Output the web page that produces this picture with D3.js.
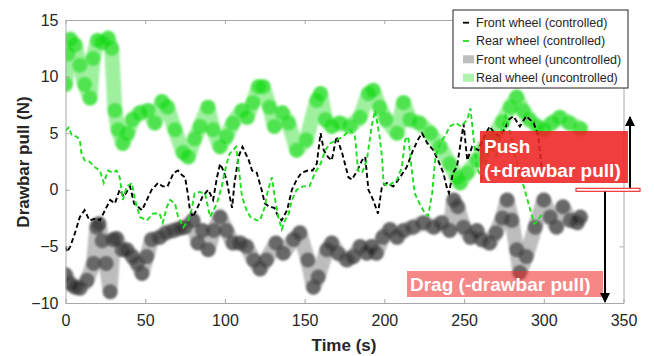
<!DOCTYPE html>
<html><head><meta charset="utf-8">
<script src="https://cdn.jsdelivr.net/npm/d3@7"></script>
<style>body{margin:0;background:#fff}svg{display:block}</style>
</head><body>
<script>
// ---- data (time in s, drawbar pull in N) ----
const xTicks = [0, 50, 100, 150, 200, 250, 300, 350];
const yTicks = [-10, -5, 0, 5, 10, 15];
const legendLabels = ["Front wheel (controlled)", "Rear wheel (controlled)", "Front wheel (uncontrolled)", "Real wheel (uncontrolled)"];

const frontControlled = [[0,-5.0],[1,-5.5],[3,-5.0],[6,-3.8],[9,-2.4],[12,-1.8],[15,-2.7],[19.6,-2.5],[21.6,-2.7],[24.8,-1.8],[28,-0.9],[31,-1.2],[34,0],[36.5,-0.6],[40.5,0.3],[43,-1.2],[48,-1.8],[52,-0.6],[54,0],[58,0.6],[61,0.3],[64,0.3],[67.8,1.5],[70.6,1.7],[73,1.3],[75,1.1],[77,-0.6],[78,-1.8],[80,-2.4],[83,-1.5],[86,-0.6],[89.5,0],[92.6,-0.9],[95,1.1],[97,2.3],[99,1.7],[101,0.9],[103,-0.6],[104.5,-1.6],[106,0.6],[108.5,2.9],[111,3.8],[113,3.2],[115,2.6],[117,1.7],[120,1.5],[123,0],[125,-1.2],[128,-1.5],[131,-1.6],[133.5,-2.4],[135.6,-2.7],[139,-1.8],[142,0],[145,0.9],[148,1.5],[152,1.7],[155,1.7],[157.6,2.3],[160,5.0],[162,3.5],[164.6,2.9],[167,2.6],[170,4.7],[173.6,3.2],[177.5,1.1],[179.6,0.9],[183,1.7],[186,2.6],[188,2.9],[190,0],[193,-0.9],[196,-2.1],[198.5,0.3],[201.6,0.6],[205.6,0.3],[209.8,1.1],[214,2.0],[218,3.5],[221,4.4],[223.6,5.0],[227,4.1],[230.7,3.5],[233.7,2.6],[237,1.5],[239,0.3],[240.5,-0.3],[243,1.5],[245.5,2.0],[249.7,5.8],[252,2.6],[255,3.8],[259,3.5],[262,4.5],[266,5.6],[269,5.0],[272.6,4.7],[276,5.5],[278,6.2],[281,6.5],[285,5.6],[289,6.5],[293.7,5.9],[296.6,4.7],[299,1.5]];

const rearControlled = [[0,5.2],[2,5.5],[4,4.8],[7,4.7],[9,4.4],[10,3.2],[12,2.6],[15,2.5],[18.5,2.0],[21.6,1.7],[24,0.6],[26.7,1.7],[30,1.5],[32,1.7],[34,1.1],[36,-0.9],[38.5,0.3],[41.7,0.6],[43.6,-0.9],[46.7,-2.4],[51,-2.7],[55,-2.1],[59,-2.1],[61,-2.9],[63.6,-1.5],[65.6,-0.9],[68.7,-1.2],[70.6,-2.4],[74,-3.3],[77,-2.7],[79,-1.8],[81,-0.3],[84,-0.2],[87.5,-0.3],[90.7,-2.4],[95,-1.2],[98,0.3],[101,2.3],[103,3.2],[107,3.8],[109,1.5],[110.7,-0.6],[113.6,-1.8],[116,-2.4],[120,-2.7],[122,-2.7],[125,-1.5],[127,0],[129.5,1.1],[131.5,-0.9],[133.5,-2.4],[135.6,-3.5],[137.7,-2.7],[140,-2.1],[142,-0.9],[145,0],[149,0.3],[153,0.3],[156.5,1.5],[160,2.3],[163,3.5],[166,4.1],[170,4.4],[174,4.7],[178.5,5.3],[181.6,4.7],[183.5,1.7],[186,1.5],[189,2.6],[192,5.6],[194.2,7.0],[197,4.7],[198.5,2.9],[199.5,0.6],[202,0.3],[205,0.6],[208,0.9],[211,2.0],[213,4.4],[215,4.7],[217,2.0],[219,-0.3],[222,-1.2],[225.5,-2.1],[227.5,-2.3],[230,-0.3],[232,2.9],[235,4.1],[239,5.0],[241,5.6],[245,5.9],[248,5.6],[252,6.2],[254,7.2],[256,4.5],[258,2.0],[261,1.0],[264,2.5],[267,4.0],[270,3.0],[273,5.0],[276,6.5],[279,5.0],[282,3.0],[285,1.5],[288,0],[291,-1.5],[294,-3.0],[296,-2.8],[298,-2.3],[300,-2.5]];

const frontUncontrolled = [[0,-7.5],[3,-8.3],[6,-8.6],[9,-8.7],[13.5,-8.0],[17.6,-6.5],[19.6,-3.3],[21,-3.0],[23,-4.5],[25.5,-6.5],[28,-9.0],[30,-4.4],[32,-4.3],[35.5,-5.3],[38.5,-5.3],[42,-5.9],[45,-6.5],[48,-7.4],[51,-5.9],[54,-4.4],[59,-4.2],[63,-3.8],[67.6,-3.6],[71.8,-3.4],[75,-3.3],[80,-2.7],[83,-4.7],[86,-3.6],[89.5,-5.3],[93,-3.6],[97,-2.4],[101,-3.6],[105,-4.7],[109.5,-4.7],[113.6,-5.0],[118,-6.2],[122,-7.0],[126,-6.2],[132,-4.7],[136.6,-5.6],[143,-4.4],[147,-3.8],[152,-6.2],[155.5,-8.6],[158.5,-7.7],[164,-5.3],[167,-4.7],[171,-5.6],[176.5,-6.2],[180.5,-5.9],[184.8,-5.0],[189,-5.6],[192,-5.0],[195,-5.6],[199,-4.2],[203.5,-3.5],[208,-4.2],[212,-3.6],[218,-3.3],[224.6,-2.9],[231,-3.3],[236,-2.9],[241,-3.6],[243.5,-0.9],[246,-1.5],[249.7,-3.3],[254,-4.2],[258,-3.6],[261,-4.4],[266,-4.7],[270,-3.8],[274,-2.5],[277,-0.9],[280,-2.7],[283,-5.3],[285,-7.3],[289,-5.9],[294.6,-3.3],[300,-0.9],[304,-2.4],[308,-3.3],[312,-1.5],[316.6,-2.7],[321,-2.9],[323,-2.4]];

const rearUncontrolled = [[0,9.3],[1.5,12.0],[3,13.3],[6,12.8],[9,11.0],[12,9.3],[15.4,8.1],[17.3,11.6],[20,13.2],[23,13.0],[26.7,13.4],[29,12.5],[31,7.0],[33,5.3],[36,4.1],[39,5.0],[42,6.2],[46.7,6.8],[51.8,7.0],[56,5.9],[60.5,7.8],[64,7.3],[68.7,5.3],[73.7,3.3],[77,2.9],[81,4.5],[84.4,5.6],[89.4,7.3],[92.6,5.3],[96.9,3.8],[101,4.7],[105,5.9],[110.7,7.0],[114,6.4],[117.6,7.7],[121,9.1],[124,9.1],[128,7.3],[131,5.6],[136,6.8],[140,5.9],[145,3.5],[151,4.4],[157.6,7.9],[160,8.5],[163,6.2],[167,5.6],[172,5.9],[178.5,5.6],[184.8,6.4],[190,8.5],[193,8.8],[197,7.3],[201,6.2],[208,5.0],[212,7.7],[216,6.2],[222,5.9],[229,5.0],[235,3.8],[241,2.3],[245.5,1.1],[247.5,0.6],[252,1.5],[258,2.6],[263,3.8],[268,4.6],[274,6.0],[279,7.3],[283,8.2],[287,7.0],[291,6.2],[296,5.6],[300,5.3],[305,5.9],[310,6.4],[316,5.9],[323,5.4]];

// ---- layout ----
const W = 654, H = 356;
const svg = d3.select("body").append("svg").attr("width", W).attr("height", H)
  .style("font-family", "'Liberation Sans', Arial, sans-serif");
const x = d3.scaleLinear().domain([0, 350]).range([65.5, 623.5]);
const y = d3.scaleLinear().domain([-10, 15]).range([303, 20]);

const defs = svg.append("defs");
defs.append("filter").attr("id", "soft").append("feGaussianBlur").attr("stdDeviation", 0.9);
defs.append("clipPath").attr("id", "plotclip").append("rect")
  .attr("x", 65.5).attr("y", 20).attr("width", 558).attr("height", 283);

const plot = svg.append("g").attr("clip-path", "url(#plotclip)");
const line = d3.line().x(d => x(d[0])).y(d => y(d[1]));

function thick(data, col, pathOp, dotOp) {
  const g = plot.append("g").attr("filter", "url(#soft)");
  g.append("path").datum(data).attr("d", line).attr("fill", "none")
    .attr("stroke", col).attr("stroke-width", 15).attr("stroke-linecap", "round")
    .attr("stroke-linejoin", "round").attr("opacity", pathOp);
  g.selectAll("circle").data(data).join("circle")
    .attr("cx", d => x(d[0])).attr("cy", d => y(d[1])).attr("r", 7.5)
    .attr("fill", col).attr("opacity", dotOp);
}
thick(rearUncontrolled, "#00d800", 0.38, 0.5);
thick(frontUncontrolled, "#0a0a0a", 0.26, 0.45);

plot.append("path").datum(frontControlled).attr("d", line).attr("fill", "none")
  .attr("stroke", "#000").attr("stroke-width", 1.9).attr("stroke-dasharray", "5,3");
plot.append("path").datum(rearControlled).attr("d", line).attr("fill", "none")
  .attr("stroke", "#1ee01e").attr("stroke-width", 1.9).attr("stroke-dasharray", "5,3");

// ---- axes ----
const axCol = "#a8a8a8", txtCol = "#262626";
function style(g) {
  g.select(".domain").attr("stroke", axCol);
  g.selectAll(".tick line").attr("stroke", axCol);
  g.selectAll(".tick text").attr("fill", txtCol).style("font-size", "16px")
    .style("font-family", "'Liberation Sans', Arial, sans-serif");
}
svg.append("g").attr("transform", "translate(0,303)")
  .call(d3.axisBottom(x).tickValues(xTicks).tickSize(-4).tickSizeOuter(0).tickPadding(12)).call(style);
svg.append("g").attr("transform", "translate(0,20)")
  .call(d3.axisTop(x).tickValues(xTicks).tickSize(-4).tickSizeOuter(0).tickFormat("")).call(style);
svg.append("g").attr("transform", "translate(65.5,0)")
  .call(d3.axisLeft(y).tickValues(yTicks).tickSize(-4).tickSizeOuter(0).tickPadding(7)).call(style);
svg.append("g").attr("transform", "translate(623.5,0)")
  .call(d3.axisRight(y).tickValues(yTicks).tickSize(-4).tickSizeOuter(0).tickFormat("")).call(style);

svg.append("text").attr("x", 344).attr("y", 351).attr("text-anchor", "middle")
  .attr("fill", txtCol).style("font-size", "17px").style("font-weight", "bold").text("Time (s)");
svg.append("text").attr("transform", "translate(29,162) rotate(-90)").attr("text-anchor", "middle")
  .attr("fill", txtCol).style("font-size", "17px").style("font-weight", "bold").text("Drawbar pull (N)");

// ---- annotations ----
svg.append("rect").attr("x", 480).attr("y", 131).attr("width", 148).attr("height", 52)
  .attr("fill", "#ee2222").attr("opacity", 0.88);
svg.append("text").attr("x", 484).attr("y", 153).attr("fill", "#fff")
  .style("font-size", "19px").style("font-weight", "bold").text("Push");
svg.append("text").attr("x", 484).attr("y", 177).attr("fill", "#fff")
  .style("font-size", "19px").style("font-weight", "bold").text("(+drawbar pull)");

svg.append("rect").attr("x", 407).attr("y", 271).attr("width", 196).attr("height", 26)
  .attr("fill", "#f03030").attr("opacity", 0.58);
svg.append("text").attr("x", 410).attr("y", 291).attr("fill", "#fff")
  .style("font-size", "19px").style("font-weight", "bold").text("Drag (-drawbar pull)");

svg.append("rect").attr("x", 576).attr("y", y(0) - 1.5).attr("width", 64).attr("height", 3)
  .attr("fill", "#fff").attr("stroke", "#f02020").attr("stroke-width", 1.1);

const mk = defs.append("marker").attr("id", "ah").attr("viewBox", "0 0 10 10")
  .attr("refX", 9).attr("refY", 5).attr("markerWidth", 5).attr("markerHeight", 5)
  .attr("orient", "auto-start-reverse");
mk.append("path").attr("d", "M0,0 L10,5 L0,10 z").attr("fill", "#000");
svg.append("line").attr("x1", 630).attr("x2", 630).attr("y1", y(0) - 2).attr("y2", 117)
  .attr("stroke", "#000").attr("stroke-width", 2).attr("marker-end", "url(#ah)");
svg.append("line").attr("x1", 605).attr("x2", 605).attr("y1", y(0) + 2).attr("y2", 302)
  .attr("stroke", "#000").attr("stroke-width", 2).attr("marker-end", "url(#ah)");

// ---- legend ----
const lg = svg.append("g");
lg.append("rect").attr("x", 453).attr("y", 10).attr("width", 175).attr("height", 78)
  .attr("fill", "#fff").attr("stroke", "#222").attr("stroke-width", 1);
const rows = [22.7, 41, 59.3, 77.7];
lg.append("line").attr("x1", 463).attr("x2", 469).attr("y1", rows[0]).attr("y2", rows[0]).attr("stroke", "#000").attr("stroke-width", 1.8);
lg.append("line").attr("x1", 463).attr("x2", 469).attr("y1", rows[1]).attr("y2", rows[1]).attr("stroke", "#1ee01e").attr("stroke-width", 1.8);
lg.append("rect").attr("x", 463).attr("y", rows[2] - 4).attr("width", 11).attr("height", 8).attr("fill", "#bdbdbd");
lg.append("rect").attr("x", 463).attr("y", rows[3] - 4).attr("width", 11).attr("height", 8).attr("fill", "#adf2ad");
lg.selectAll("text.l").data(legendLabels).join("text").attr("class", "l")
  .attr("x", d => 476).attr("y", (d, i) => rows[i] + 4.3).attr("fill", txtCol)
  .style("font-size", "12.5px").text(d => d);
</script>
</body></html>
